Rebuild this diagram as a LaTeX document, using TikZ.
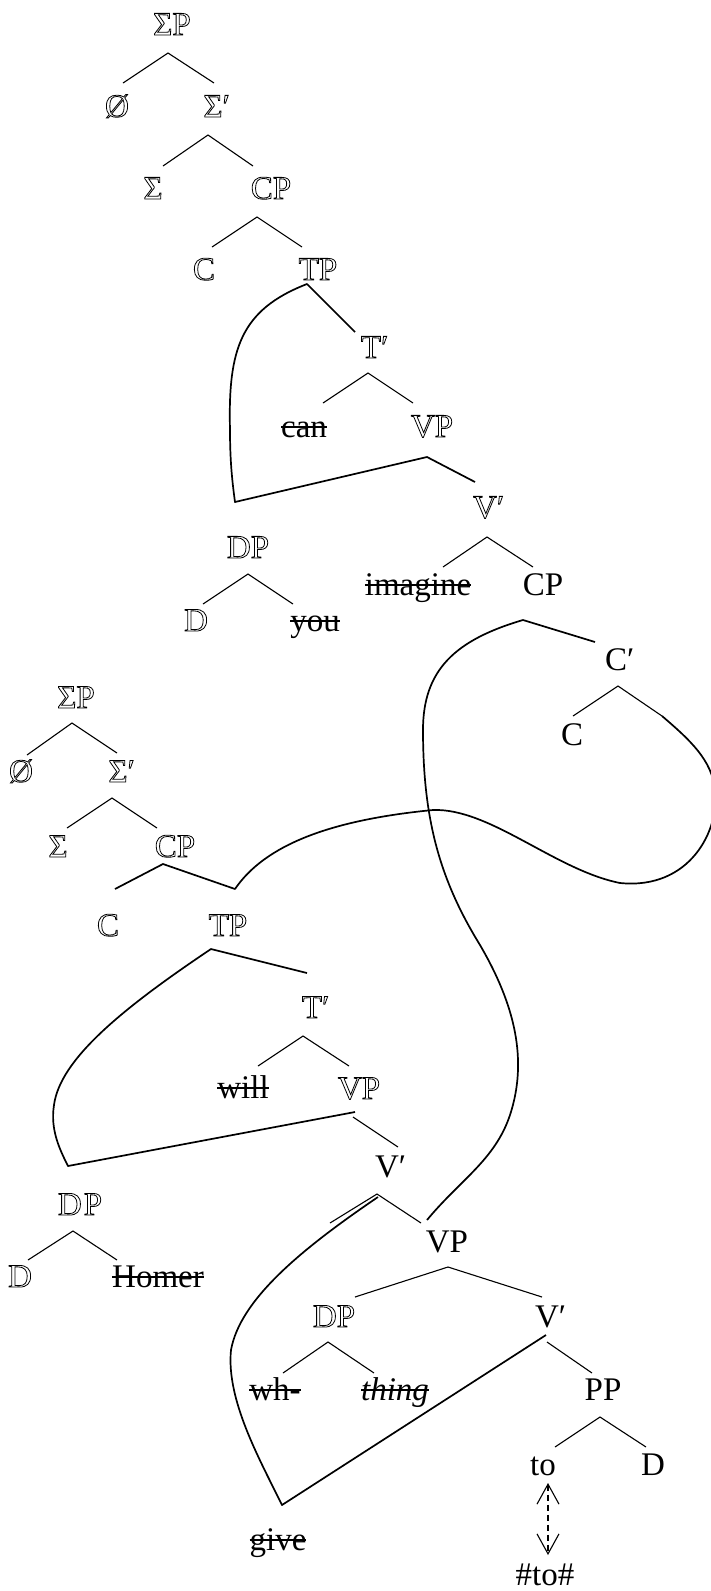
\documentclass[tikz,border=0pt]{standalone}
\usepackage{fontspec}
\setmainfont{Liberation Serif}
\usetikzlibrary{arrows.meta}
% outlined (deleted) material
\newcommand{\hollow}[1]{\special{pdf:literal direct 1 Tr 0.8 w}#1\special{pdf:literal direct 0 Tr}}
\newcommand{\prm}{\rlap{′}}
% struck-out words
\newsavebox{\strikebox}
\newcommand{\strk}[1]{\sbox{\strikebox}{#1}\usebox{\strikebox}\llap{\rule[9pt]{\wd\strikebox}{1.6pt}}}
\begin{document}
\begin{tikzpicture}[x=1pt,y=-1pt,
    lbl/.style={anchor=base,inner sep=0pt,font=\fontsize{33}{39}\selectfont},
    br/.style={line width=1.1pt},
    mv/.style={line width=1.7pt,line join=round}]
        \useasboundingbox (0,0) rectangle (710,1591);

        % Upper tree
        \node[lbl] (sp1) at (172,35) {\hollow{ΣP}};
        \node[lbl] (nul1) at (117,117) {\hollow{Ø}};
        \node[lbl] (sb1) at (213,117) {\hollow{Σ\prm}};
        \node[lbl] (sig1) at (153,199) {\hollow{Σ}};
        \node[lbl] (cp1) at (271,199) {\hollow{CP}};
        \node[lbl] (c1) at (204,280) {\hollow{C}};
        \node[lbl] (tp1) at (318,280) {\hollow{TP}};
        \node[lbl] (tb1) at (371,358) {\hollow{T\prm}};
        \node[lbl] (can) at (304,437) {\strk{can}};
        \node[lbl] (vp1) at (432,437) {\hollow{VP}};
        \node[lbl] (vb1) at (485,518) {\hollow{V\prm}};
        \node[lbl] (dp1) at (248,558) {\hollow{DP}};
        \node[lbl] (d1) at (196,631) {\hollow{D}};
        \node[lbl] (you) at (315,631) {\strk{you}};
        \node[lbl] (imag) at (418,595) {\strk{imagine}};
        \node[lbl] (cp1b) at (543,595) {CP};
        \node[lbl] (cb) at (616,670) {C\prm};
        \node[lbl] (c1b) at (572,745) {C};

        % Lower tree
        \node[lbl] (sp2) at (76,708) {\hollow{ΣP}};
        \node[lbl] (nul2) at (21,782) {\hollow{Ø}};
        \node[lbl] (sb2) at (118,782) {\hollow{Σ\prm}};
        \node[lbl] (sig2) at (58,857) {\hollow{Σ}};
        \node[lbl] (cp2) at (175,857) {\hollow{CP}};
        \node[lbl] (c2) at (108,936) {\hollow{C}};
        \node[lbl] (tp2) at (228,936) {\hollow{TP}};
        \node[lbl] (tb2) at (312,1018) {\hollow{T\prm}};
        \node[lbl] (will) at (243,1098) {\strk{will}};
        \node[lbl] (vp2) at (359,1099) {\hollow{VP}};
        \node[lbl] (vb2) at (387,1177) {V\prm};
        \node[lbl] (dp2) at (80,1215) {\hollow{D\kern2pt P}};
        \node[lbl] (d2) at (20,1287) {\hollow{D}};
        \node[lbl] (homer) at (158,1287) {\strk{Homer}};
        \node[lbl] (vp3) at (447,1252) {VP};
        \node[lbl] (dp3) at (334,1327) {\hollow{DP}};
        \node[lbl] (vb3) at (547,1327) {V\prm};
        \node[lbl] (wh) at (275,1400) {\strk{wh-}};
        \node[lbl] (thing) at (395,1400) {\strk{\textit{thing}}};
        \node[lbl] (pp) at (603,1400) {PP};
        \node[lbl] (to) at (543,1475) {to};
        \node[lbl] (d3) at (653,1475) {D};
        \node[lbl] (give) at (278,1550) {\strk{give}};
        \node[lbl] (toto) at (545,1585) {\#to\#};

        % Upper tree branches
        \draw[br] ([shift={(6,-34)}]nul1.base) -- ([shift={(-4,18)}]sp1.base) -- ([shift={(1,-34)}]sb1.base);
        \draw[br] ([shift={(10,-33)}]sig1.base) -- ([shift={(-5,18)}]sb1.base) -- ([shift={(-18,-33)}]cp1.base);
        \draw[br] ([shift={(8,-33)}]c1.base) -- ([shift={(-14,18)}]cp1.base) -- ([shift={(-16,-33)}]tp1.base);
        \draw[br] ([shift={(19,-34)}]can.base) -- ([shift={(-3,15)}]tb1.base) -- ([shift={(-19,-34)}]vp1.base);
        \draw[br] ([shift={(25,-28)}]imag.base) -- ([shift={(2,19)}]vb1.base) -- ([shift={(-10,-28)}]cp1b.base);
        \draw[br] ([shift={(7,-27)}]d1.base) -- ([shift={(0,16)}]dp1.base) -- ([shift={(-22,-27)}]you.base);
        \draw[br] ([shift={(1,-29)}]c1b.base) -- ([shift={(2,16)}]cb.base) -- ([shift={(46,46)}]cb.base) coordinate (cbr);

        % Subject path from TP to VP
        \draw[mv] ([shift={(-16,-26)}]tb1.base) -- ([shift={(-11,4)}]tp1.base)
            .. controls (240,310) and (228,350) .. (230,430)
            .. controls (230,460) and (232,480) .. (235,502)
            -- ([shift={(-5,20)}]vp1.base) -- ([shift={(-10,-36)}]vb1.base);

        % Path from CP down to the lower VP
        \draw[mv] ([shift={(-21,-28)}]cb.base) -- ([shift={(-20,25)}]cp1b.base)
            .. controls (455,640) and (423,670) .. (423,730)
            .. controls (423,820) and (440,880) .. (480,945)
            .. controls (515,1005) and (528,1060) .. (510,1115)
            .. controls (495,1160) and (460,1180) .. ([shift={(-20,-32)}]vp3.base);

        % Lower tree branches
        \draw[br] ([shift={(6,-27)}]nul2.base) -- ([shift={(-4,15)}]sp2.base) -- ([shift={(-1,-29)}]sb2.base);
        \draw[br] ([shift={(9,-29)}]sig2.base) -- ([shift={(-6,16)}]sb2.base) -- ([shift={(-18,-29)}]cp2.base);

        % CP loop up to C'
        \draw[mv] ([shift={(7,-47)}]c2.base) -- ([shift={(-12,7)}]cp2.base) -- ([shift={(7,-47)}]tp2.base)
            .. controls (265,845) and (330,820) .. (433,810)
            .. controls (490,808) and (555,870) .. (620,883)
            .. controls (690,890) and (720,830) .. (715,790)
            .. controls (712,760) and (690,740) .. (cbr);

        % Subject path from TP to VP
        \draw[mv] ([shift={(-5,-45)}]tb2.base) -- ([shift={(-17,13)}]tp2.base)
            .. controls (120,1010) and (60,1060) .. (54,1105)
            .. controls (50,1130) and (60,1150) .. (68,1166)
            -- ([shift={(-4,13)}]vp2.base);
        \draw[br] ([shift={(-6,18)}]vp2.base) -- ([shift={(11,-30)}]vb2.base);
        \draw[br] ([shift={(15,-32)}]will.base) -- ([shift={(-9,18)}]tb2.base) -- ([shift={(-10,-33)}]vp2.base);
        \draw[br] ([shift={(-57,46)}]vb2.base) -- ([shift={(-10,17)}]vb2.base) -- ([shift={(-26,-29)}]vp3.base);

        % Verb path from V' down to give
        \draw[mv] ([shift={(-9,20)}]vb2.base)
            .. controls (300,1250) and (240,1300) .. (231,1350)
            .. controls (226,1400) and (260,1460) .. ([shift={(4,-45)}]give.base)
            -- ([shift={(-1,8)}]vb3.base);

        \draw[br] ([shift={(21,-30)}]dp3.base) -- ([shift={(1,15)}]vp3.base) -- ([shift={(-5,-30)}]vb3.base);
        \draw[br] ([shift={(8,-27)}]wh.base) -- ([shift={(-6,15)}]dp3.base) -- ([shift={(-21,-27)}]thing.base);
        \draw[br] ([shift={(0,15)}]vb3.base) -- ([shift={(-11,-27)}]pp.base);
        \draw[br] ([shift={(12,-28)}]to.base) -- ([shift={(-3,17)}]pp.base) -- ([shift={(-7,-28)}]d3.base);
        \draw[br] ([shift={(8,-27)}]d2.base) -- ([shift={(-7,16)}]dp2.base) -- ([shift={(-41,-27)}]homer.base);

        % to and #to#
        \draw[br, dash pattern=on 6pt off 4pt, {Straight Barb[length=20pt,width=22pt]}-{Straight Barb[length=20pt,width=22pt]}]
            ([shift={(5,8)}]to.base) -- ([shift={(3,-30)}]toto.base);

\end{tikzpicture}
\end{document}
